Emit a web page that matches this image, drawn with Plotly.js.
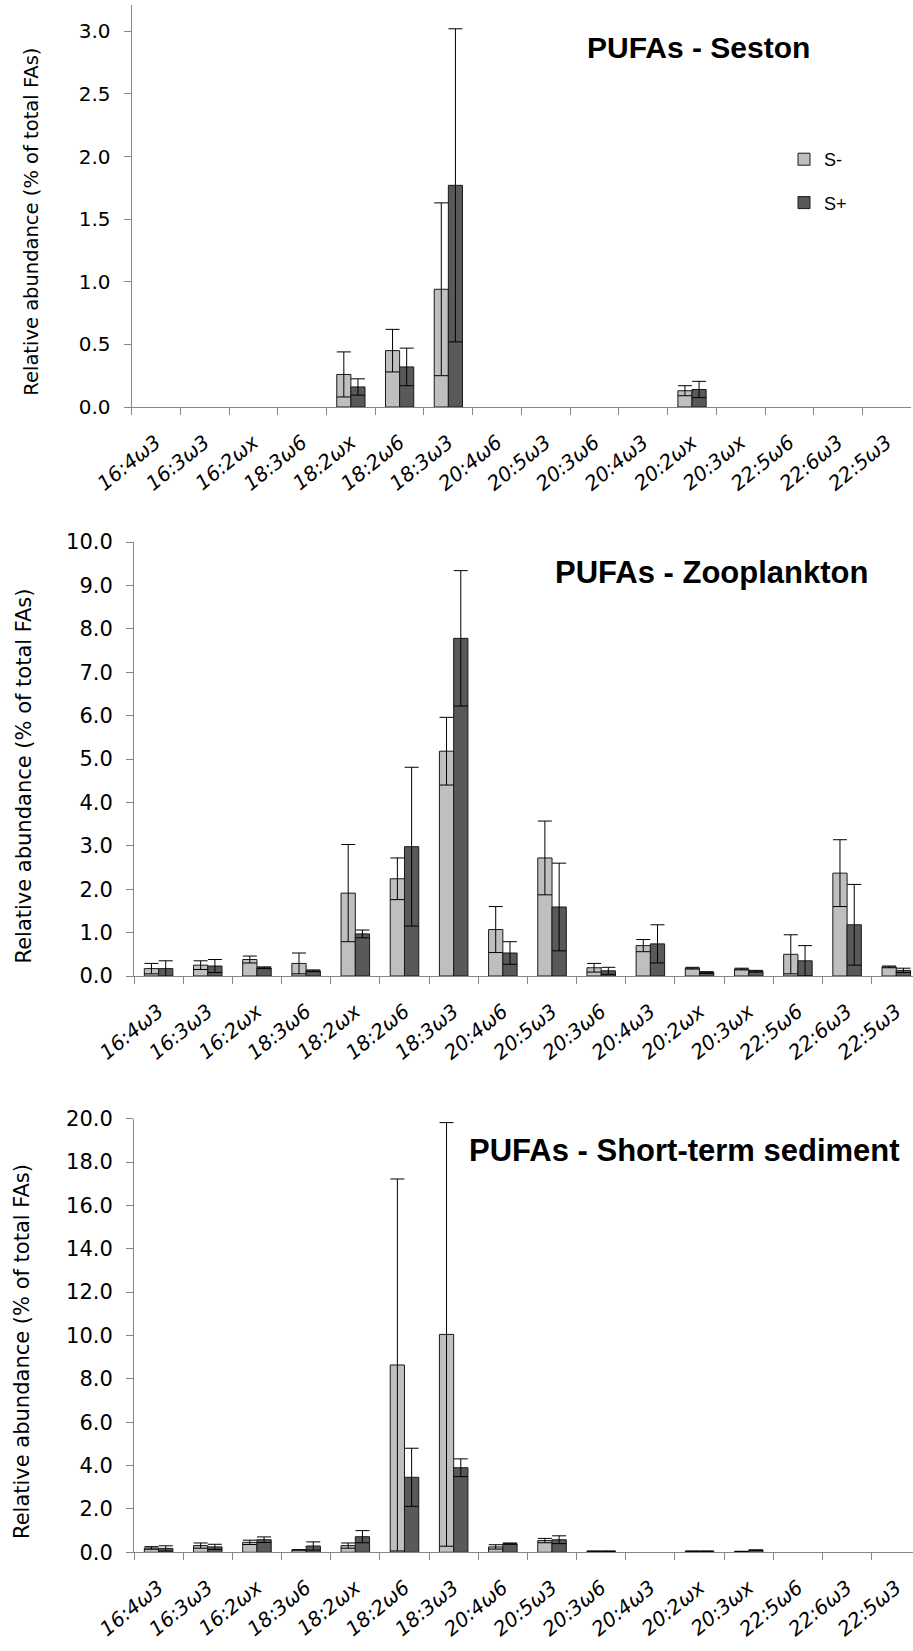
<!DOCTYPE html>
<html>
<head>
<meta charset="utf-8">
<script src="https://cdn.plot.ly/plotly-3.0.1.min.js"></script>
<style>
html,body{margin:0;padding:0;background:#ffffff;}
#chart{width:913px;height:1651px;}
</style>
</head>
<body>
<div id="chart"></div>
<script>
// ---------------- DATA ----------------
const categories = ['16:4ω3','16:3ω3','16:2ωx','18:3ω6','18:2ωx','18:2ω6','18:3ω3','20:4ω6','20:5ω3','20:3ω6','20:4ω3','20:2ωx','20:3ωx','22:5ω6','22:6ω3','22:5ω3'];
const seriesNames = ['S-','S+'];

// Seston
const sestonMinus    = [null,null,null,null,0.26,0.45,0.94,null,null,null,null,0.13,null,null,null,null];
const sestonMinusErr = [null,null,null,null,0.18,0.17,0.69,null,null,null,null,0.04,null,null,null,null];
const sestonPlus     = [null,null,null,null,0.16,0.32,1.77,null,null,null,null,0.14,null,null,null,null];
const sestonPlusErr  = [null,null,null,null,0.065,0.15,1.25,null,null,null,null,0.065,null,null,null,null];

// Zooplankton
const zooMinus    = [0.17,0.25,0.38,0.29,1.91,2.24,5.18,1.07,2.72,0.19,0.70,0.18,0.16,0.50,2.37,0.21];
const zooMinusErr = [0.12,0.10,0.08,0.24,1.12,0.48,0.78,0.53,0.85,0.10,0.14,0.02,0.02,0.45,0.77,0.02];
const zooPlus     = [0.17,0.23,0.19,0.12,0.97,2.98,7.78,0.53,1.59,0.12,0.74,0.08,0.11,0.35,1.18,0.13];
const zooPlusErr  = [0.18,0.15,0.02,0.02,0.09,1.83,1.56,0.26,1.01,0.08,0.44,0.02,0.02,0.35,0.93,0.05];

// Short-term sediment
const sedMinus    = [0.20,0.31,0.46,0.11,0.31,8.64,10.05,0.25,0.54,0.05,null,0.05,0.04,null,null,null];
const sedMinusErr = [0.06,0.12,0.10,0.00,0.12,8.58,9.77,0.10,0.10,0.00,null,0.00,0.00,null,null,null];
const sedPlus     = [0.18,0.25,0.58,0.29,0.72,3.46,3.90,0.40,0.58,0.05,null,0.05,0.10,null,null,null];
const sedPlusErr  = [0.12,0.12,0.13,0.19,0.28,1.34,0.41,0.03,0.18,0.00,null,0.00,0.00,null,null,null];

const panelTitles = ['PUFAs - Seston','PUFAs - Zooplankton','PUFAs - Short-term sediment'];
const yAxisTitle = 'Relative abundance (% of total FAs)';

// ---------------- LAYOUT HELPERS ----------------
const W = 913, H = 1651;
const px = v => v / W;
const py = v => 1 - v / H;

const colMinus = '#bfbfbf';
const colPlus = '#595959';
const axisGray = '#868686';

const panels = [
  {minus: sestonMinus, minusErr: sestonMinusErr, plus: sestonPlus, plusErr: sestonPlusErr,
   xLeft: 131.6, xRight: 911.3, yTop: 5, yBot: 407, yRange: [0, 3.21], dtick: 0.5, xRange: [-0.5, 15.5],
   tickSize: 20, title: {x: 585, y: 47, size: 30}, ytitle: {x: 30.7, y: 222, size: 19.5}, legend: true},
  {minus: zooMinus, minusErr: zooMinusErr, plus: zooPlus, plusErr: zooPlusErr,
   xLeft: 134, xRight: 913, yTop: 542, yBot: 976, yRange: [0, 10], dtick: 1, xRange: [-0.5, 15.34],
   tickSize: 21, title: {x: 553, y: 573, size: 31}, ytitle: {x: 23.5, y: 776, size: 21}, legend: false},
  {minus: sedMinus, minusErr: sedMinusErr, plus: sedPlus, plusErr: sedPlusErr,
   xLeft: 134, xRight: 913, yTop: 1118.7, yBot: 1552.3, yRange: [0, 20], dtick: 2, xRange: [-0.5, 15.34],
   tickSize: 21, title: {x: 467, y: 1150, size: 31}, ytitle: {x: 22, y: 1352, size: 21}, legend: false}
];

const data = [];
const layout = {
  width: W, height: H,
  margin: {l: 0, r: 0, t: 0, b: 0},
  paper_bgcolor: '#ffffff', plot_bgcolor: '#ffffff',
  barmode: 'group', bargap: 0.42, bargroupgap: 0,
  showlegend: true,
  legend: {x: px(784), y: py(141), xanchor: 'left', yanchor: 'top',
           bgcolor: 'rgba(0,0,0,0)', font: {family: 'Liberation Sans', size: 18, color: '#000'},
           traceorder: 'grouped', tracegroupgap: 17, itemwidth: 30},
  annotations: [],
  font: {family: 'DejaVu Sans', color: '#000'}
};

panels.forEach((p, i) => {
  const s = i === 0 ? '' : String(i + 1);
  const xa = 'x' + s, ya = 'y' + s;
  const mk = (name, y, err, color, grp) => ({
    type: 'bar', name: name, x: categories, y: y, xaxis: xa, yaxis: ya,
    legendgroup: grp, showlegend: p.legend,
    marker: {color: color, line: {color: '#1a1a1a', width: 1}},
    error_y: {type: 'data', array: err, visible: true, symmetric: true, color: '#000', thickness: 1, width: 7},
    cliponaxis: true, hoverinfo: 'skip'
  });
  data.push(mk(seriesNames[0], p.minus, p.minusErr, colMinus, 'a'));
  data.push(mk(seriesNames[1], p.plus, p.plusErr, colPlus, 'b'));

  layout['xaxis' + s] = {
    domain: [px(p.xLeft), px(p.xRight)], anchor: ya, type: 'category',
    range: p.xRange, tickson: 'boundaries', ticks: 'outside', ticklen: 7, tickcolor: axisGray, tickwidth: 1,
    showline: true, linecolor: axisGray, linewidth: 1, showgrid: false, zeroline: false,
    tickangle: -39, ticklabelstandoff: 15,
    tickfont: {family: 'DejaVu Sans', size: 20, style: 'italic', color: '#000'}, fixedrange: true
  };
  layout['yaxis' + s] = {
    domain: [py(p.yBot), py(p.yTop)], anchor: xa,
    range: p.yRange, tick0: 0, dtick: p.dtick, tickformat: '.1f',
    ticks: 'outside', ticklen: 7, tickcolor: axisGray, tickwidth: 1,
    showline: true, linecolor: axisGray, linewidth: 1, showgrid: false, zeroline: false,
    ticklabelstandoff: 9,
    tickfont: {family: 'DejaVu Sans', size: p.tickSize, color: '#000'}, fixedrange: true
  };
  layout.annotations.push({
    text: panelTitles[i], xref: 'paper', yref: 'paper', x: px(p.title.x), y: py(p.title.y),
    xanchor: 'left', yanchor: 'middle', showarrow: false,
    font: {family: 'Liberation Sans', size: p.title.size, weight: 'bold', color: '#000'}
  });
  layout.annotations.push({
    text: yAxisTitle, xref: 'paper', yref: 'paper', x: px(p.ytitle.x), y: py(p.ytitle.y),
    xanchor: 'center', yanchor: 'middle', textangle: -90, showarrow: false,
    font: {family: 'DejaVu Sans', size: p.ytitle.size, color: '#000'}
  });
});

Plotly.newPlot('chart', data, layout, {displayModeBar: false, staticPlot: true});
</script>
</body>
</html>
